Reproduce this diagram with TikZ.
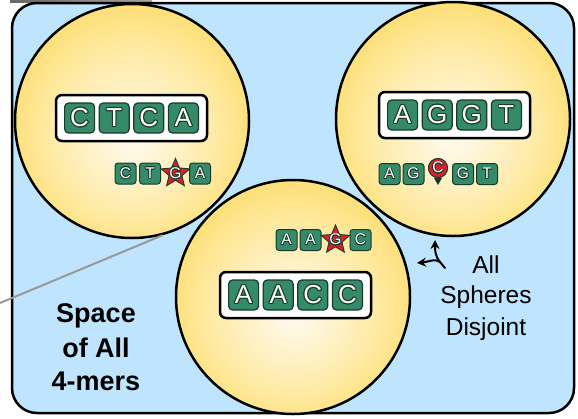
\documentclass[tikz,border=0pt]{standalone}
\usepackage{fontspec}
\setmainfont{Liberation Sans}
\usepackage{contour}
\usetikzlibrary{arrows.meta,shapes.geometric}

\definecolor{bgblue}{HTML}{BEE5FD}
\definecolor{sphinner}{HTML}{FFF8E4}
\definecolor{sphmid}{HTML}{FEEBA8}
\definecolor{sphrim}{HTML}{FDDB66}
\definecolor{sphouter}{HTML}{FDD352}
\definecolor{tilegreen}{HTML}{348A69}
\definecolor{tiledark}{HTML}{1B3A2C}
\definecolor{starred}{HTML}{D8202A}
\definecolor{leadgray}{HTML}{999999}

% soft golden ball, lightest a little below the middle
% (the ball's rim sits at about 35bp of the shading)
\pgfdeclareradialshading{sphere}{\pgfpoint{0bp}{-4bp}}{%
  color(0bp)=(sphinner); color(3bp)=(sphinner); color(17bp)=(sphmid);
  color(30bp)=(sphrim); color(35bp)=(sphouter); color(50bp)=(sphouter)}

\newcommand\bigletter[1]{\contourlength{1pt}\contour{tiledark}{#1}}
\newcommand\smallletter[1]{\contourlength{0.7pt}\contour{tiledark}{#1}}

\begin{document}
\begin{tikzpicture}[x=1pt,y=-1pt,
  outerbox/.style={draw=black, line width=2.5pt, fill=bgblue, rounded corners=25pt},
  ball/.style={circle, minimum size=234pt, inner sep=0pt, draw=black, line width=2.5pt,
               shade, shading=sphere},
  wordbox/.style={draw=black, fill=white, line width=2.5pt, rounded corners=6pt,
                  minimum width=151pt, minimum height=46pt, inner sep=0pt},
  bigtile/.style={draw=tiledark, fill=tilegreen, rounded corners=4pt, line width=1.2pt,
                  minimum size=30pt, inner sep=0pt, text=white,
                  font=\fontsize{26}{26}\selectfont},
  smalltile/.style={draw=tiledark, fill=tilegreen, rounded corners=3pt, line width=1pt,
                    minimum size=21pt, inner sep=0pt, text=white,
                    font=\fontsize{15.5}{15.5}\selectfont},
  mutstar/.style={star, star points=5, star point ratio=2.2, minimum size=30pt,
                  inner sep=0pt, fill=starred, draw=tiledark, line width=0.9pt},
  mutpin/.style={circle, minimum size=19pt, inner sep=0pt, fill=starred,
                 draw=tiledark, line width=0.9pt},
  mutletter/.style={inner sep=0pt, text=white, font=\fontsize{15.5}{15.5}\selectfont},
  bigtext/.style={anchor=base, inner sep=0pt, font=\bfseries\fontsize{27}{27}\selectfont},
  sidetext/.style={anchor=base, inner sep=0pt, font=\fontsize{24.5}{24.5}\selectfont},
  tripod/.style={line width=2pt, line cap=round},
  leader/.style={draw=leadgray, line width=2pt}
]
\useasboundingbox (0,0) rectangle (578,418);

% thin grey strip above the frame
\shade[left color=gray!80!black, middle color=gray!25, right color=gray!70]
  (10,0) rectangle (152,2.2);

% the space of all 4-mers
\draw[outerbox] (12,3) rectangle (574,413);

% the three spheres
\node[ball] (s1) at (132,121) {};
\node[ball] (s2) at (453,119) {};
\node[ball] (s3) at (293,297) {};

% centre words
\node[wordbox] (w1) at (131.5,118) {};
\foreach \l [count=\i] in {C,T,C,A}
  \node[bigtile, xshift={(\i-2.5)*34.6pt}] (w1-\i) at (w1) {\bigletter{\l}};

\node[wordbox] (w2) at (454.5,115) {};
\foreach \l [count=\i] in {A,G,G,T}
  \node[bigtile, xshift={(\i-2.5)*34.6pt}] (w2-\i) at (w2) {\bigletter{\l}};

\node[wordbox] (w3) at (295.5,295) {};
\foreach \l [count=\i] in {A,A,C,C}
  \node[bigtile, xshift={(\i-2.5)*34.6pt}] (w3-\i) at (w3) {\bigletter{\l}};

% one-letter variants
\node[smalltile] (v1-1) at (125.5,173.5) {\smallletter{C}};
\node[smalltile] (v1-2) at (150,173.5) {\smallletter{T}};
\node[mutstar] (v1-3) at (175.5,173.5) {};
\node[mutletter] (v1-3g) at (v1-3) {\smallletter{G}};
\node[smalltile] (v1-4) at (200,173.5) {\smallletter{A}};

\node[smalltile] (v2-1) at (389.5,174) {\smallletter{A}};
\node[smalltile] (v2-2) at (413.5,174) {\smallletter{G}};
\node[mutpin] (v2-3) at (438,168) {};
\fill[tiledark] ([xshift=-4pt]v2-3.south) -- ([xshift=4pt]v2-3.south)
  -- ([yshift=-7pt]v2-3.south) -- cycle;
\node[mutpin] at (v2-3) {};
\node[mutletter] (v2-3c) at (v2-3) {\smallletter{C}};
\node[smalltile] (v2-4) at (463,174) {\smallletter{G}};
\node[smalltile] (v2-5) at (487,174) {\smallletter{T}};

\node[smalltile] (v3-1) at (286.5,240) {\smallletter{A}};
\node[smalltile] (v3-2) at (310.5,240) {\smallletter{A}};
\node[mutstar] (v3-3) at (335.5,240) {};
\node[mutletter] (v3-3g) at (v3-3) {\smallletter{G}};
\node[smalltile] (v3-4) at (360.5,240) {\smallletter{C}};

% labels
\node[bigtext] (sp1) at (96,322) {Space};
\node[bigtext] (sp2) at (96,357) {of All};
\node[bigtext] (sp3) at (96,390) {4-mers};

\node[sidetext] (dj1) at (486,273) {All};
\node[sidetext] (dj2) at (486,303) {Spheres};
\node[sidetext] (dj3) at (486,335) {Disjoint};

% three-way arrow between the spheres
\coordinate (fork) at (440,262);
\coordinate (tail) at (445,268);
\coordinate (upend) at (435,240);
\coordinate (leftend) at (417,263);
\draw[tripod] (tail) -- (fork);
\draw[tripod, -{Stealth[length=9pt,width=9pt]}] (fork)
  .. controls (435,256) and (435,250) .. (upend);
\draw[tripod, -{Stealth[length=9pt,width=9pt]}] (fork)
  .. controls (435,258) and (428,262) .. (leftend);

% grey leader into the first sphere
\coordinate (leadstart) at (0,303);
\draw[leader] (leadstart) -- (s1.-75);
\end{tikzpicture}
\end{document}
